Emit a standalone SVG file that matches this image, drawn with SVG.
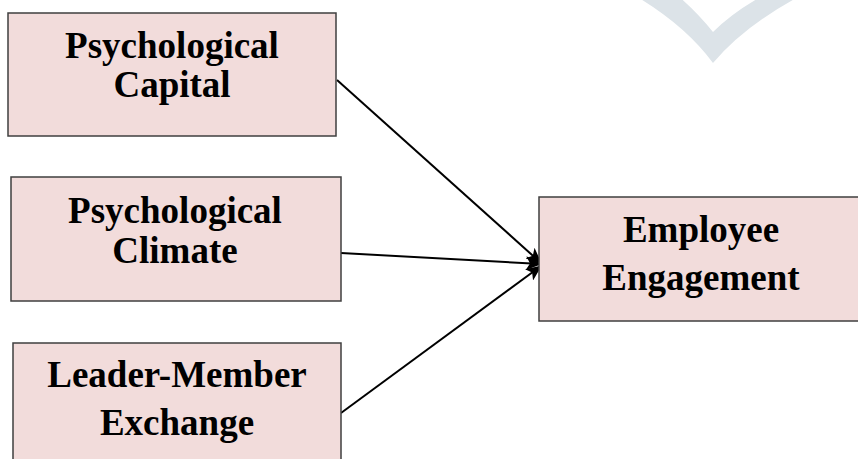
<svg xmlns="http://www.w3.org/2000/svg" width="858" height="459" viewBox="0 0 858 459">
<defs>
<style>
.box{fill:#f2dcdb;stroke:#3f3f3f;stroke-width:1.5}
.lbl{font-family:"Liberation Serif","Times New Roman",serif;font-weight:bold;font-size:37px;fill:#000;text-anchor:middle}
.conn{stroke:#000;stroke-width:2;fill:none}
</style>
<marker id="arr" markerWidth="16" markerHeight="14" refX="15" refY="7" orient="auto" markerUnits="userSpaceOnUse" viewBox="0 0 16 14">
<path d="M0,0 L16,7 L0,14 L4,7 Z" fill="#000"/>
</marker>
</defs>
<path d="M634,-5 Q685,25 713,63 Q745,25 802,-5 L764,-5 Q733,12 713,32 Q697,12 677,-5 Z" fill="#dce3e8"/>
<g id="connectors">
<line class="conn" x1="337" y1="80" x2="541" y2="263" marker-end="url(#arr)"/>
<line class="conn" x1="341" y1="253" x2="541" y2="264" marker-end="url(#arr)"/>
<line class="conn" x1="341" y1="413" x2="541" y2="266" marker-end="url(#arr)"/>
</g>
<g id="psycap">
<rect class="box" x="8" y="13" width="328" height="123"/>
<text class="lbl" x="172" y="58">Psychological</text>
<text class="lbl" x="172" y="97">Capital</text>
</g>
<g id="psyclimate">
<rect class="box" x="11" y="177" width="330" height="124"/>
<text class="lbl" x="175" y="223">Psychological</text>
<text class="lbl" x="175" y="263">Climate</text>
</g>
<g id="lmx">
<rect class="box" x="13" y="343" width="328" height="130"/>
<text class="lbl" x="177" y="387">Leader-Member</text>
<text class="lbl" x="177" y="435">Exchange</text>
</g>
<g id="engagement">
<rect class="box" x="539" y="197" width="330" height="124"/>
<text class="lbl" x="701" y="242">Employee</text>
<text class="lbl" x="701" y="290">Engagement</text>
</g>
</svg>
